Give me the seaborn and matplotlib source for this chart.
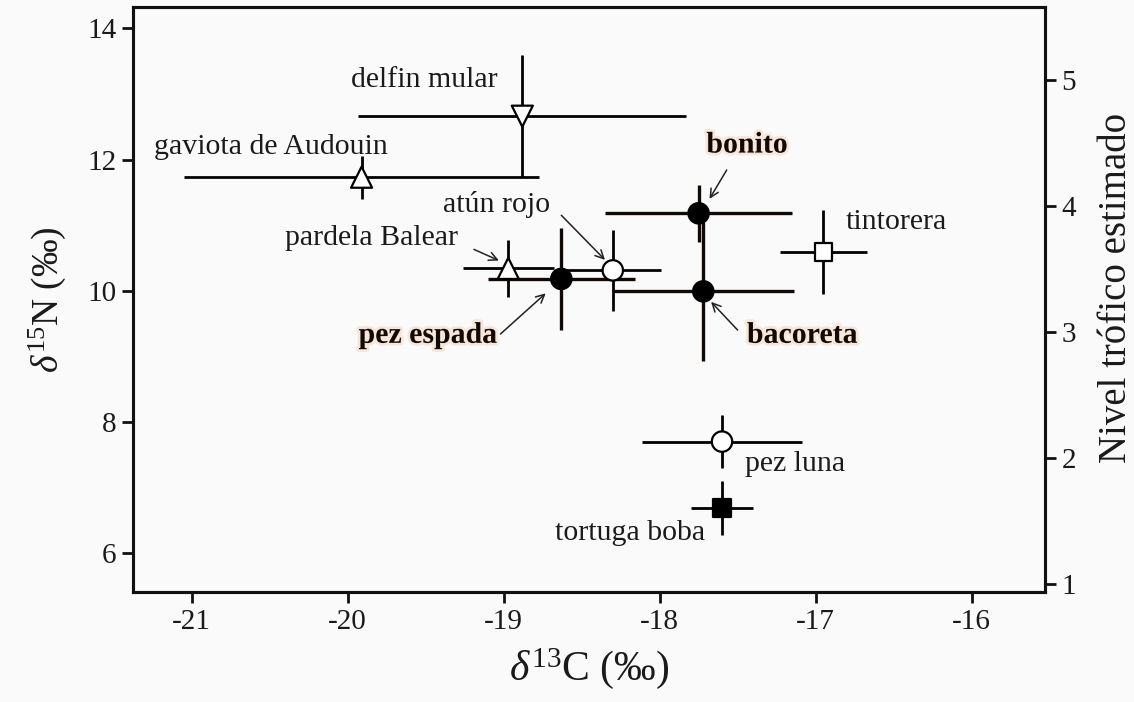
import matplotlib
matplotlib.use('Agg')
import matplotlib.pyplot as plt
import matplotlib.patheffects as pe
import seaborn as sns
import pandas as pd

# ---- data ----
species = ['delfin mular', 'gaviota de Audouin', 'pardela Balear', 'atún rojo',
           'pez espada', 'bonito', 'bacoreta', 'tintorera', 'pez luna', 'tortuga boba']
d13C = [-18.88, -19.91, -18.97, -18.30, -18.63, -17.75, -17.72, -16.95, -17.60, -17.60]
d15N = [12.66, 11.73, 10.34, 10.31, 10.18, 11.18, 9.99, 10.59, 7.70, 6.69]
sd13C = [1.05, 1.14, 0.29, 0.31, 0.47, 0.60, 0.58, 0.28, 0.51, 0.20]
sd15N = [0.93, 0.33, 0.44, 0.62, 0.78, 0.43, 1.06, 0.64, 0.41, 0.41]
x_ticks = [-21, -20, -19, -18, -17, -16]
y_ticks = [6, 8, 10, 12, 14]
tl_ticks = [1, 2, 3, 4, 5]

# ---- styling ----
marker_shape = ['v', '^', '^', 'o', 'o', 'o', 'o', 's', 'o', 's']
filled = [False, False, False, False, True, True, True, False, False, True]
highlight = [False, False, False, False, True, True, True, False, False, False]
marker_size = {'v': 230, '^': 230, 'o': 215, 's': 165}

# label placement (data coords) and arrows
lab_pos = {
    'delfin mular': (-19.04, 13.21, 'right'),
    'gaviota de Audouin': (-19.74, 12.19, 'right'),
    'pardela Balear': (-19.29, 10.80, 'right'),
    'atún rojo': (-18.70, 11.32, 'right'),
    'pez espada': (-19.04, 9.32, 'right'),
    'bonito': (-17.70, 12.22, 'left'),
    'bacoreta': (-17.44, 9.32, 'left'),
    'tintorera': (-16.81, 11.04, 'left'),
    'pez luna': (-17.45, 7.36, 'left'),
    'tortuga boba': (-17.71, 6.31, 'right'),
}
arrows = {
    'pardela Balear': ((-19.19, 10.63), (-19.03, 10.46)),
    'atún rojo': ((-18.63, 11.15), (-18.35, 10.47)),
    'pez espada': ((-19.02, 9.34), (-18.73, 9.96)),
    'bacoreta': ((-17.50, 9.40), (-17.67, 9.83)),
    'bonito': ((-17.57, 11.84), (-17.68, 11.40)),
}

bg = '#fafafa'
dark = '#120805'

sns.set_theme(style='ticks')
plt.rcParams['font.family'] = ['Liberation Serif', 'DejaVu Serif']
plt.rcParams['mathtext.fontset'] = 'custom'
plt.rcParams['mathtext.rm'] = 'Liberation Serif'
plt.rcParams['mathtext.it'] = 'Liberation Serif:italic'
plt.rcParams['mathtext.bf'] = 'Liberation Serif:bold'
plt.rcParams['axes.unicode_minus'] = False

df = pd.DataFrame({'species': species, 'd13C': d13C, 'd15N': d15N,
                   'sd13C': sd13C, 'sd15N': sd15N})

fig = plt.figure(figsize=(11.34, 7.02), dpi=100, facecolor=bg)
ax = fig.add_axes([0.1173, 0.156, 0.8042, 0.8336])
ax.set_facecolor(bg)

# error bars
for i, row in df.iterrows():
    col = dark if highlight[i] else 'black'
    lw = 2.4 if highlight[i] else 2.0
    ax.errorbar(row['d13C'], row['d15N'], xerr=row['sd13C'], yerr=row['sd15N'],
                fmt='none', ecolor=col, elinewidth=lw, capsize=0, zorder=2)

# markers
face = {s: ('black' if f else 'white') for s, f in zip(species, filled)}
sns.scatterplot(data=df, x='d13C', y='d15N', hue='species', palette=face,
                style='species', markers=dict(zip(species, marker_shape)),
                size='species', sizes={s: marker_size[m] for s, m in zip(species, marker_shape)},
                edgecolor='black', linewidth=1.6, legend=False, zorder=3, ax=ax)

# labels
for i, s in enumerate(species):
    x, y, ha = lab_pos[s]
    if highlight[i]:
        ax.text(x, y, s, ha=ha, va='center', fontsize=21.5, fontweight='bold', color=dark,
                zorder=5, path_effects=[pe.withStroke(linewidth=4, foreground='#f7e6da')])
    else:
        ax.text(x, y, s, ha=ha, va='center', fontsize=21.5, color='#1a1a1a', zorder=5)
for s, (start, end) in arrows.items():
    ax.annotate('', xy=end, xytext=start,
                arrowprops=dict(arrowstyle='->', color='#222222', lw=1.1,
                                mutation_scale=15, shrinkA=0, shrinkB=0), zorder=4)

ylo, yhi = 5.40, 14.32
ax.set_xlim(-21.375, -15.53)
ax.set_ylim(ylo, yhi)
ax.set_xticks(x_ticks)
ax.set_yticks(y_ticks)
ax.set_xlabel(r'$\mathit{\delta}^{13}$C (‰)', fontsize=30, labelpad=8, color='#1a1a1a')
ax.set_ylabel(r'$\mathit{\delta}^{15}$N (‰)', fontsize=27, labelpad=14, color='#1a1a1a')

# right axis: estimated trophic level
def to_tl(v):
    return 1 + (v - 5.53) / 1.92

ax2 = ax.twinx()
ax2.set_ylim(to_tl(ylo), to_tl(yhi))
ax2.set_yticks(tl_ticks)
ax2.set_ylabel('Nivel trófico estimado', fontsize=28, labelpad=12, color='#1a1a1a')
ax2.yaxis.set_label_coords(1.058, 0.52)

for a in (ax, ax2):
    for sp in a.spines.values():
        sp.set_linewidth(2.2)
        sp.set_color('#111111')
        sp.set_visible(True)
    a.tick_params(direction='out', length=8, width=2, labelsize=21, pad=4,
                  colors='#111111', labelcolor='#1a1a1a')
ax.tick_params(right=False, top=False)

fig.savefig('out.png', dpi=100, facecolor=bg)
